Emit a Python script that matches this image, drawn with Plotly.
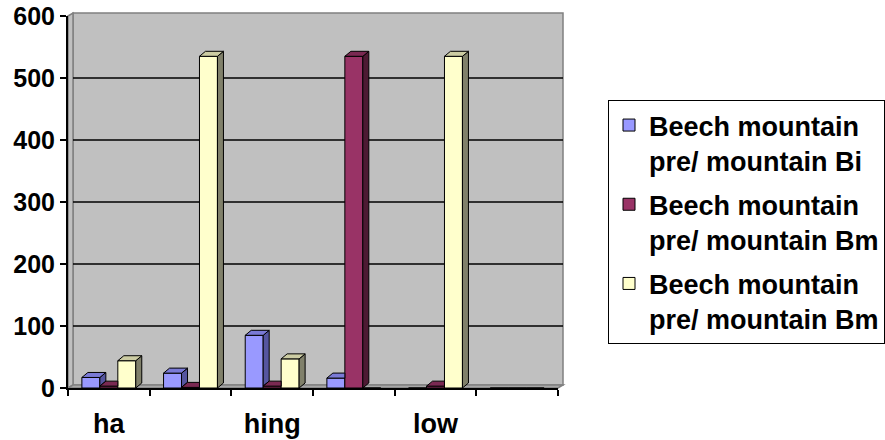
import plotly.graph_objects as go

# ---- data -------------------------------------------------------------
n_categories = 6
label_positions = [0, 2, 4]
category_labels = ["ha", "hing", "low"]

series_names = [
    "Beech mountain<br>pre/ mountain Bi",
    "Beech mountain<br>pre/ mountain Bm",
    "Beech mountain<br>pre/ mountain Bm",
]
bi_values = [17, 24, 85, 16, 0, 0]
bm_values = [3, 1, 3, 535, 3, 0]
bm2_values = [44, 535, 47, 0, 535, 0]

y_ticks = [0, 100, 200, 300, 400, 500, 600]

# ---- styling ----------------------------------------------------------
front_colors = ["#9999FF", "#993366", "#FFFFCC"]
top_colors = ["#7A7AD6", "#7A2952", "#CCCCA3"]
side_colors = ["#55559F", "#4D1A33", "#80806A"]
FONT = "Arial, 'Liberation Sans', sans-serif"

FIG_W, FIG_H = 885, 440
PLOT_L, PLOT_R, PLOT_T, PLOT_B = 68, 558, 16, 388
WALL_DX, WALL_DY = 5, 3          # back wall offset in pixels
BAR_DX_PX, BAR_DY_PX = 6, 5      # bar depth in pixels
BAR_W = 0.22
GROUP_START = -0.33

y_min, y_max = y_ticks[0], y_ticks[-1]
x_min, x_max = -0.5, n_categories - 0.5
dx = BAR_DX_PX * (x_max - x_min) / (PLOT_R - PLOT_L)
dy = BAR_DY_PX * (y_max - y_min) / (PLOT_B - PLOT_T)


def xp(px):
    return (px - PLOT_L) / (PLOT_R - PLOT_L)


def yp(py):
    return (PLOT_B - py) / (PLOT_B - PLOT_T)


series = [bi_values, bm_values, bm2_values]
fig = go.Figure()

for s, vals in enumerate(series):
    offset = GROUP_START + s * BAR_W
    nxt = series[s + 1] if s + 1 < len(series) else [0] * n_categories
    fig.add_trace(go.Bar(
        x=list(range(n_categories)), y=vals,
        width=BAR_W, offset=offset,
        name=series_names[s], legendgroup=f"g{s}",
        marker=dict(color=front_colors[s], line=dict(color="black", width=1)),
    ))
    # depth faces (side and top), hidden where the neighbouring bar stands in front
    sx, sy, tx, ty = [], [], [], []
    for k, v in enumerate(vals):
        if v <= 0:
            continue
        xl = k + offset
        xr = xl + BAR_W
        u = max(nxt[k], 0)
        if v > u:
            sx += [xr, xr + dx, xr + dx, xr, xr, None]
            sy += [u, u + dy, v + dy, v, u, None]
            right = xr + dx
        else:
            right = xr
        tx += [xl, xl + dx, right, xr, xl, None]
        ty += [v, v + dy, v + dy, v, v, None]
    fig.add_trace(go.Scatter(
        x=sx, y=sy, mode="lines", fill="toself", fillcolor=side_colors[s],
        line=dict(color="black", width=1), showlegend=False,
        legendgroup=f"g{s}", hoverinfo="skip",
    ))
    fig.add_trace(go.Scatter(
        x=tx, y=ty, mode="lines", fill="toself", fillcolor=top_colors[s],
        line=dict(color="black", width=1), showlegend=False,
        legendgroup=f"g{s}", hoverinfo="skip",
    ))

# ---- back wall, side wall, floor and gridlines --------------------------
shapes = []
shapes.append(dict(
    type="rect", xref="paper", yref="paper", layer="below",
    x0=xp(PLOT_L + WALL_DX), x1=xp(PLOT_R + WALL_DX),
    y0=yp(PLOT_B - WALL_DY), y1=yp(PLOT_T - WALL_DY),
    fillcolor="#C0C0C0", line=dict(color="#808080", width=1.5),
))
shapes.append(dict(
    type="path", xref="paper", yref="paper", layer="below",
    path=(f"M{xp(PLOT_L)},{yp(PLOT_T)} L{xp(PLOT_L + WALL_DX)},{yp(PLOT_T - WALL_DY)} "
          f"L{xp(PLOT_L + WALL_DX)},{yp(PLOT_B - WALL_DY)} L{xp(PLOT_L)},{yp(PLOT_B)} Z"),
    fillcolor="#C0C0C0", line=dict(color="#808080", width=1.5),
))
shapes.append(dict(
    type="path", xref="paper", yref="paper", layer="below",
    path=(f"M{xp(PLOT_L)},{yp(PLOT_B)} L{xp(PLOT_L + WALL_DX)},{yp(PLOT_B - WALL_DY)} "
          f"L{xp(PLOT_R + WALL_DX)},{yp(PLOT_B - WALL_DY)} L{xp(PLOT_R)},{yp(PLOT_B)} Z"),
    fillcolor="#A8A8A8", line=dict(color="#808080", width=1.5),
))
for v in y_ticks[1:-1]:
    shapes.append(dict(
        type="line", xref="paper", yref="y", layer="below",
        x0=xp(PLOT_L + WALL_DX), x1=xp(PLOT_R + WALL_DX), y0=v, y1=v,
        line=dict(color="black", width=1.3),
    ))

fig.update_layout(
    width=FIG_W, height=FIG_H,
    margin=dict(l=PLOT_L, r=FIG_W - PLOT_R, t=PLOT_T, b=FIG_H - PLOT_B, pad=0,
                autoexpand=False),
    paper_bgcolor="white", plot_bgcolor="rgba(0,0,0,0)",
    barmode="overlay",
    shapes=shapes,
    showlegend=True,
    legend=dict(
        xref="paper", yref="paper",
        x=xp(608), y=yp(100), xanchor="left", yanchor="top",
        bgcolor="white", bordercolor="black", borderwidth=1,
        font=dict(family=FONT, size=27, color="black", weight="bold"),
        valign="top", tracegroupgap=6,
    ),
    xaxis=dict(
        range=[x_min, x_max], tickmode="array",
        tickvals=label_positions, ticktext=category_labels,
        ticks="", showgrid=False, zeroline=False, automargin=False,
        showline=True, linecolor="black", linewidth=2,
        ticklabelstandoff=11,
        tickfont=dict(family=FONT, size=27, color="black", weight="bold"),
        minor=dict(
            tickmode="array",
            tickvals=[k - 0.5 for k in range(n_categories + 1)],
            ticks="outside", ticklen=6, tickwidth=1.5, tickcolor="black",
            showgrid=False,
        ),
    ),
    yaxis=dict(
        range=[y_min, y_max], tickmode="array", tickvals=y_ticks,
        ticks="outside", ticklen=6, tickwidth=1.5, tickcolor="black",
        showgrid=False, zeroline=False, automargin=False,
        showline=True, linecolor="black", linewidth=2,
        tickfont=dict(family=FONT, size=25, color="black", weight="bold"),
    ),
)

fig.write_html("out.html")
